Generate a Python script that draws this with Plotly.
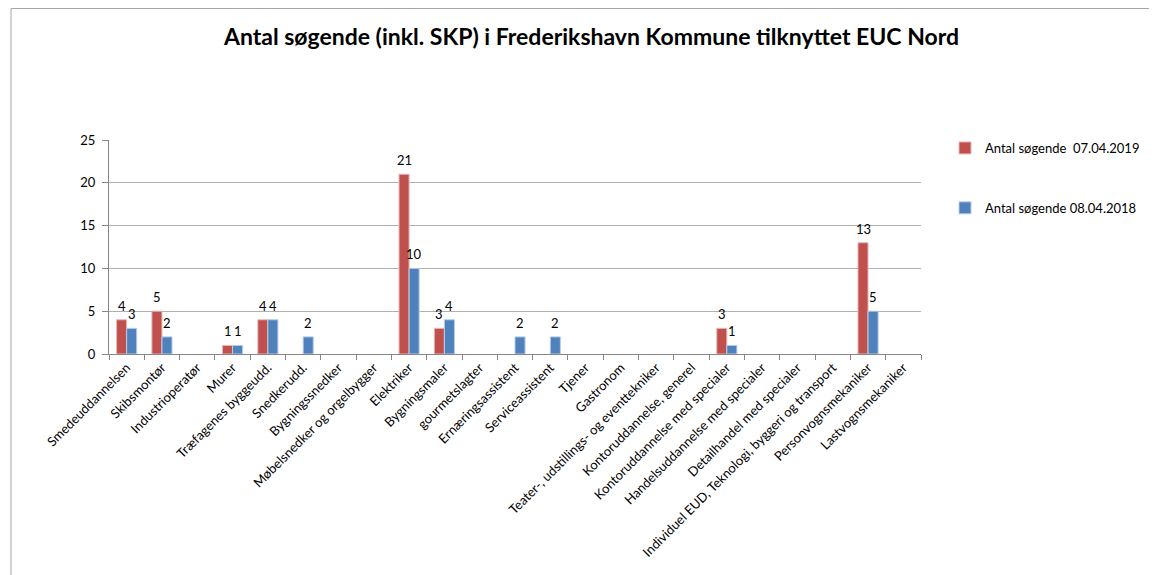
import plotly.graph_objects as go

categories = [
    "Smedeuddannelsen", "Skibsmontør", "Industrioperatør", "Murer",
    "Træfagenes byggeudd.", "Snedkerudd.", "Bygningssnedker",
    "Møbelsnedker og orgelbygger", "Elektriker", "Bygningsmaler",
    "gourmetslagter", "Ernæringsassistent", "Serviceassistent", "Tjener",
    "Gastronom", "Teater-, udstillings- og eventtekniker",
    "Kontoruddannelse, generel", "Kontoruddannelse med specialer",
    "Handelsuddannelse med specialer", "Detailhandel med specialer",
    "Individuel EUD, Teknologi, byggeri og transport",
    "Personvognsmekaniker", "Lastvognsmekaniker",
]
series_2019_name = "Antal søgende  07.04.2019"
series_2018_name = "Antal søgende 08.04.2018"
values_2019 = [4, 5, None, 1, 4, None, None, None, 21, 3, None, None, None,
               None, None, None, None, 3, None, None, None, 13, None]
values_2018 = [3, 2, None, 1, 4, 2, None, None, 10, 4, None, 2, 2,
               None, None, None, None, 1, None, None, None, 5, None]
y_ticks = [0, 5, 10, 15, 20, 25]

FONT = "Lato, 'Open Sans', sans-serif"
OFF = 8  # default page body margin
W, H = 1157 - OFF, 575 - OFF
# plot area in page pixels
L, R, T, B = 109 - OFF, 921 - OFF, 140 - OFF, 354 - OFF


def px_x(px):
    return (px - OFF - L) / (R - L)


def px_y(py):
    return (B - (py - OFF)) / (B - T)


fig = go.Figure()
fig.add_trace(go.Bar(
    x=categories, y=values_2019, name=series_2019_name,
    marker=dict(color="#C0504D", line=dict(color="#E6B9B8", width=1)),
    legendgroup="a",
))
fig.add_trace(go.Bar(
    x=categories, y=values_2018, name=series_2018_name,
    marker=dict(color="#4F81BD", line=dict(color="#B9CDE5", width=1)),
    legendgroup="b",
))

annotations = []
for vals, shift in ((values_2019, -5), (values_2018, 5)):
    for cat, v in zip(categories, vals):
        if v is None:
            continue
        annotations.append(dict(
            x=cat, y=v, xref="x", yref="y", text=str(v), showarrow=False,
            xanchor="center", yanchor="middle", xshift=shift, yshift=14,
            font=dict(family=FONT, size=13, color="#000"),
        ))

fig.update_layout(
    width=W, height=H,
    margin=dict(l=L, r=W - R, t=T, b=H - B, autoexpand=False),
    paper_bgcolor="white", plot_bgcolor="white",
    barmode="group", bargap=0.43, bargroupgap=0,
    font=dict(family=FONT, size=13, color="#000"),
    title=dict(
        text="<b>Antal søgende (inkl. SKP) i Frederikshavn Kommune tilknyttet EUC Nord</b>",
        x=((222 + 961) / 2 - OFF) / W, xanchor="center",
        y=1 - (37 - OFF) / H, yanchor="middle",
        font=dict(family=FONT, size=23, color="#000"),
    ),
    legend=dict(
        x=px_x(945), xanchor="left", y=px_y(133), yanchor="top",
        font=dict(family=FONT, size=13, color="#000"),
        tracegroupgap=40, traceorder="grouped",
        itemwidth=30, bgcolor="rgba(0,0,0,0)",
    ),
    showlegend=True,
    annotations=annotations,
    xaxis=dict(
        type="category", tickangle=-45, tickson="boundaries",
        ticks="outside", ticklen=5, tickcolor="#868686",
        showline=True, linecolor="#868686", linewidth=1,
        showgrid=False, tickfont=dict(family=FONT, size=13, color="#000"),
        fixedrange=True,
    ),
    yaxis=dict(
        range=[0, 25], tickvals=y_ticks, ticks="outside", ticklen=6,
        tickcolor="#868686", showline=True, linecolor="#868686", linewidth=1,
        showgrid=True, gridcolor="#B0B0B0", gridwidth=1, zeroline=False,
        ticklabelstandoff=4,
        tickfont=dict(family=FONT, size=13, color="#000"),
        fixedrange=True,
    ),
    shapes=[dict(
        type="rect", xref="paper", yref="paper",
        x0=px_x(11), x1=px_x(1175), y0=px_y(600), y1=px_y(8.5),
        line=dict(color="#A6A6A6", width=1), fillcolor="rgba(0,0,0,0)",
        layer="below",
    )],
)

fig.write_html("out.html")
